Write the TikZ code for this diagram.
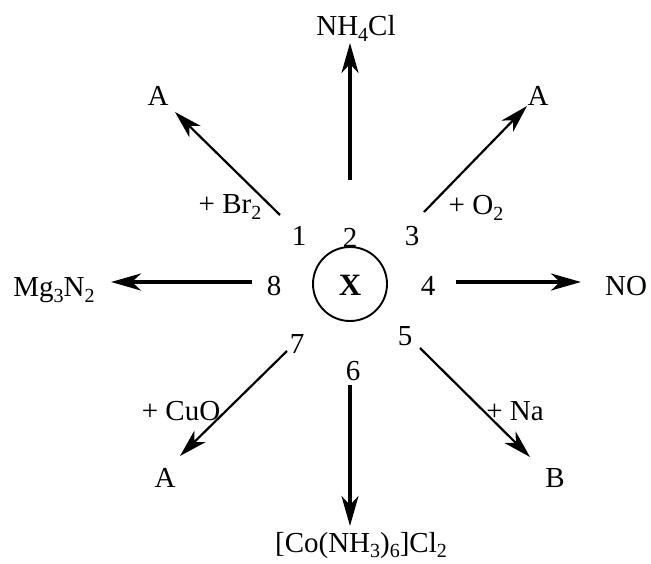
\documentclass[tikz,border=0pt]{standalone}
\usepackage{fontspec}
\setmainfont{Liberation Serif}
\usetikzlibrary{arrows.meta}
\newcommand{\sbs}[1]{\raisebox{-5.5pt}{\fontsize{20}{20}\selectfont #1}}
\tikzset{
  lbl/.style={inner sep=0pt, anchor=base, font=\fontsize{29}{33}\selectfont},
  straightarr/.style={line width=3.1pt, -{Stealth[length=30pt, width=17pt, inset=9pt]}},
  diagarr/.style={line width=2.2pt, -{Stealth[length=28pt, width=16pt, inset=8pt]}},
  ring/.style={circle, draw, line width=1.9pt, minimum size=74pt, inner sep=0pt}
}
\begin{document}
\begin{tikzpicture}[x=1pt, y=-1pt]
\useasboundingbox (0,0) rectangle (651,564);
% centre
\node[ring] (c) at (350,284) {};
\node[lbl, font=\fontsize{31}{34}\selectfont\bfseries] (x) at (350,296) {X};
% numbers
\node[lbl] (n1) at (299,246) {1};
\node[lbl] (n2) at (350,248) {2};
\node[lbl] (n3) at (412,246) {3};
\node[lbl] (n4) at (428,296) {4};
\node[lbl] (n5) at (405,345) {5};
\node[lbl] (n6) at (353,380) {6};
\node[lbl] (n7) at (297,353) {7};
\node[lbl] (n8) at (274,296) {8};
% products
\node[lbl] (p2) at (356,36) {NH\sbs{4}Cl};
\node[lbl] (p1) at (158,106) {A};
\node[lbl] (p3) at (538,106) {A};
\node[lbl] (p8) at (54,297) {Mg\sbs{3}N\sbs{2}};
\node[lbl] (p4) at (626,296) {NO};
\node[lbl] (p7) at (165,487) {A};
\node[lbl] (p5) at (555,487) {B};
\node[lbl] (p6) at (361,552) {[Co(NH\sbs{3})\sbs{6}]Cl\sbs{2}};
% reagents
\node[lbl] (r1) at (230,214) {+ Br\sbs{2}};
\node[lbl] (r3) at (476,215) {+ O\sbs{2}};
\node[lbl] (r7) at (181,420) {+ CuO};
\node[lbl] (r5) at (515,420) {+ Na};
% arrow end points
\coordinate (s1) at (280,215); \coordinate (t1) at (175,112);
\coordinate (s2) at (350,180); \coordinate (t2) at (350,43);
\coordinate (s3) at (424,212); \coordinate (t3) at (527,106);
\coordinate (s4) at (456,282); \coordinate (t4) at (581,282);
\coordinate (s5) at (420,348); \coordinate (t5) at (530,457);
\coordinate (s6) at (350,385); \coordinate (t6) at (350,526);
\coordinate (s7) at (287,351); \coordinate (t7) at (180,456);
\coordinate (s8) at (252,282); \coordinate (t8) at (111,282);
\draw[diagarr] (s1) -- (t1);
\draw[straightarr] (s2) -- (t2);
\draw[diagarr] (s3) -- (t3);
\draw[straightarr] (s4) -- (t4);
\draw[diagarr] (s5) -- (t5);
\draw[straightarr] (s6) -- (t6);
\draw[diagarr] (s7) -- (t7);
\draw[straightarr] (s8) -- (t8);
\end{tikzpicture}
\end{document}
